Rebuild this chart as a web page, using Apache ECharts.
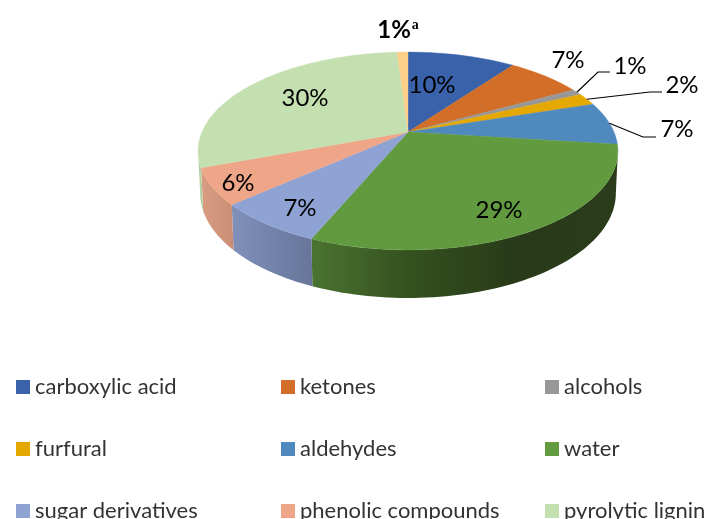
<!DOCTYPE html>
<html>
<head>
<meta charset="utf-8">
<title>pie</title>
<script src="https://cdn.jsdelivr.net/npm/echarts@6/dist/echarts.min.js"></script>
<style>
html, body { margin: 0; padding: 0; background: #fff; }
#main { width: 704px; height: 519px; overflow: hidden; }
</style>
</head>
<body>
<div id="main"></div>
<script>
// data, the last slice has no legend entry
const categories = ['carboxylic acid', 'ketones', 'alcohols', 'furfural', 'aldehydes', 'water', 'sugar derivatives', 'phenolic compounds', 'pyrolytic lignin', 'other'];
const percents = [10, 7, 1, 2, 7, 29.3, 7.1, 5.9, 29.7, 1];

const topColors = ['#3a62ab', '#d26e27', '#979797', '#e4a800', '#4f89bd', '#619a3f', '#8fa2d4', '#efa688', '#c4dfb0', '#fdd08a'];
// side wall shading, left to right
const wallColors = [
    null, null, null, null, null,
    ['#4a7330', '#33501f', '#283a19', '#2a3c1a'],
    ['#7f90ba', '#67759a'],
    ['#d99c82', '#c98f75'],
    ['#b5cfa2', '#b5cfa2'],
    null
];
// label centres and leader lines
const labelCenters = [[432, 85], [568, 60], [630, 66], [682, 85], [677, 129], [499, 210], [300, 208], [238, 183], [305, 98], [398, 30]];
const labelBends = [null, null, [[598, 72], [610, 72]], [[650, 92], [662, 92]], [[643, 137], [656, 137]], null, null, null, null, null];

// the tilted disc is a perspective view of a circle
const tilt = { cx: 408, cy: 132, a: 206, b: 95.3, k: 0.192 };
const floor = { cx: 408, cy: 173, a: 204, b: 101, k: 0.192 };
const wallFrom = 101, wallTo = 259;
const total = percents.reduce(function (s, v) { return s + v; }, 0);

function project(disc, deg) {
    const r = deg * Math.PI / 180;
    const x = Math.sin(r), y = Math.cos(r);
    const d = 1 + disc.k * y;
    return [disc.cx + disc.a * x / d, disc.cy - disc.b * y / d];
}

function arc(disc, from, to) {
    const pts = [];
    const n = Math.max(2, Math.ceil(Math.abs(to - from) / 1.5));
    for (let i = 0; i <= n; i++) {
        pts.push(project(disc, from + (to - from) * i / n));
    }
    return pts;
}

function sliceItem(index) {
    return function (params, api) {
        const before = percents.slice(0, index).reduce(function (s, v) { return s + v; }, 0);
        const start = before / total * 360;
        const end = (before + api.value(0)) / total * 360;
        const children = [];
        const color = topColors[index];
        const label = Math.round(api.value(0)) + '%';

        // side wall first
        const wFrom = Math.max(start, wallFrom), wTo = Math.min(end, wallTo);
        if (wallColors[index] && wTo > wFrom) {
            const stops = wallColors[index];
            const pts = arc(tilt, wFrom, wTo).concat(arc(floor, wTo, wFrom));
            children.push({
                type: 'polygon',
                shape: { points: pts },
                style: {
                    fill: {
                        type: 'linear', x: 0, y: 0, x2: 1, y2: 0,
                        colorStops: stops.map(function (c, i) {
                            return { offset: i / (stops.length - 1), color: c };
                        })
                    },
                    stroke: null
                }
            });
        }

        children.push({
            type: 'polygon',
            shape: { points: [[tilt.cx, tilt.cy]].concat(arc(tilt, start, end)) },
            style: { fill: color, stroke: color, lineWidth: 0.4 }
        });

        // leader line from the rim to the label
        if (labelBends[index]) {
            const mid = (start + end) / 2;
            children.push({
                type: 'polyline',
                shape: { points: [project(tilt, mid)].concat(labelBends[index]) },
                style: { fill: null, stroke: '#000', lineWidth: 1.2 }
            });
        }

        // last slice gets the bold label with the footnote mark
        const center = labelCenters[index];
        if (index === percents.length - 1) {
            children.push({
                type: 'text',
                z2: 10,
                style: {
                    x: center[0], y: center[1], align: 'center', verticalAlign: 'middle',
                    text: '{b|' + label + '}{a|a}',
                    rich: {
                        b: { fontFamily: 'Lato', fontWeight: 'bold', fontSize: 24, fill: '#000', color: '#000' },
                        a: { fontFamily: 'Liberation Serif', fontWeight: 'bold', fontSize: 14, fill: '#000', color: '#000', verticalAlign: 'top', padding: [0, 0, 8, 1] }
                    }
                }
            });
        } else {
            children.push({
                type: 'text',
                z2: 10,
                style: {
                    x: center[0], y: center[1], align: 'center', verticalAlign: 'middle',
                    text: label,
                    fontFamily: 'Lato', fontSize: 24, fill: '#000'
                }
            });
        }
        return { type: 'group', children: children };
    };
}

const series = categories.map(function (name, i) {
    return {
        name: name,
        type: 'custom',
        coordinateSystem: 'none',
        silent: true,
        itemStyle: { color: topColors[i] },
        data: [[percents[i]]],
        renderItem: sliceItem(i)
    };
});

function legendColumn(left, names) {
    return {
        orient: 'vertical',
        left: left,
        top: 376,
        height: 300,
        padding: 0,
        itemWidth: 14,
        itemHeight: 14,
        itemGap: 40,
        icon: 'rect',
        selectedMode: false,
        data: names,
        textStyle: { fontFamily: 'Lato', fontSize: 22, color: '#333' }
    };
}

var myChart = echarts.init(document.getElementById('main'), null, { renderer: 'canvas' });
myChart.setOption({
    animation: false,
    legend: [
        legendColumn(16, [categories[0], categories[3], categories[6]]),
        legendColumn(281, [categories[1], categories[4], categories[7]]),
        legendColumn(545, [categories[2], categories[5], categories[8]])
    ],
    series: series
});
</script>
</body>
</html>
